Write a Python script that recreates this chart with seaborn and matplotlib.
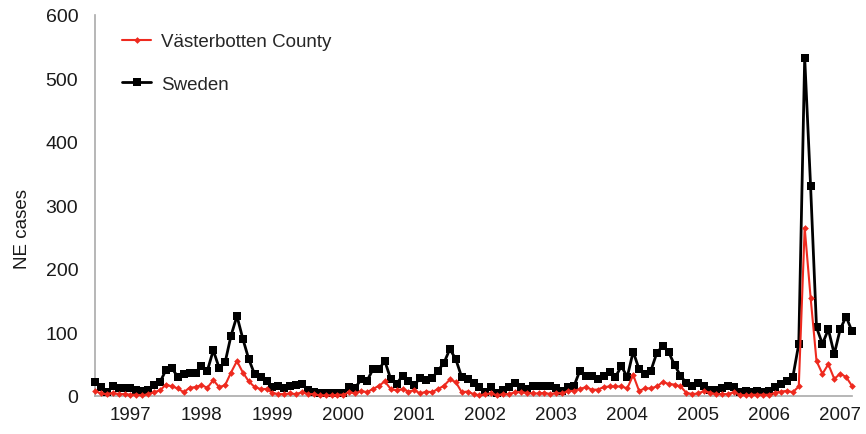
import numpy as np
import pandas as pd
import matplotlib
matplotlib.use("Agg")
import matplotlib.pyplot as plt
import seaborn as sns

# Monthly nephropathia epidemica (NE) cases, January 1997 onwards
years = [1997, 1998, 1999, 2000, 2001, 2002, 2003, 2004, 2005, 2006, 2007]

sweden = [
    22, 14, 6, 15, 12, 12, 12, 9, 8, 9, 18, 22,          # 1997
    41, 44, 30, 35, 36, 37, 48, 40, 72, 44, 53, 95,      # 1998
    126, 90, 58, 34, 30, 24, 14, 16, 12, 15, 17, 19,     # 1999
    10, 7, 5, 5, 5, 5, 4, 14, 13, 26, 24, 42,            # 2000
    42, 55, 27, 19, 32, 23, 18, 28, 25, 28, 40, 52,      # 2001
    74, 58, 30, 26, 20, 14, 6, 14, 5, 9, 14, 20,         # 2002
    14, 11, 16, 16, 16, 15, 13, 8, 14, 16, 40, 32,       # 2003
    31, 26, 32, 38, 30, 47, 30, 70, 42, 34, 40, 68,      # 2004
    79, 69, 49, 32, 20, 15, 20, 15, 10, 9, 12, 16,       # 2005
    14, 6, 8, 6, 8, 6, 8, 14, 19, 24, 30, 82,            # 2006
    533, 330, 108, 82, 105, 66, 105, 125, 102,           # 2007
]

vasterbotten = [
    8, 4, 3, 5, 3, 3, 2, 2, 1, 3, 6, 9,                  # 1997
    18, 15, 12, 6, 13, 14, 17, 13, 25, 14, 17, 37,       # 1998
    55, 37, 23, 14, 11, 11, 5, 3, 3, 4, 3, 6,            # 1999
    3, 3, 1, 1, 1, 2, 2, 6, 4, 8, 6, 11,                 # 2000
    16, 23, 11, 9, 11, 7, 9, 4, 7, 6, 11, 16,            # 2001
    26, 22, 6, 7, 3, 1, 3, 4, 1, 3, 3, 6,                # 2002
    6, 5, 4, 4, 5, 3, 5, 4, 8, 8, 11, 14,                # 2003
    10, 10, 14, 15, 15, 15, 12, 33, 8, 12, 12, 15,       # 2004
    22, 19, 18, 15, 5, 3, 4, 8, 5, 3, 3, 3,              # 2005
    6, 2, 1, 2, 2, 2, 2, 5, 7, 8, 6, 15,                 # 2006
    265, 155, 55, 35, 50, 27, 35, 30, 16,                # 2007
]

series_names = ["Västerbotten County", "Sweden"]
y_ticks = [0, 100, 200, 300, 400, 500, 600]

months = np.arange(len(sweden))
df = pd.DataFrame({"month": months, "Sweden": sweden,
                   "Västerbotten County": vasterbotten})

sns.set_style("white")
plt.rcParams["font.family"] = ["Liberation Sans", "DejaVu Sans"]

fig = plt.figure(figsize=(8.66, 4.35), dpi=100)
ax = fig.add_axes([95 / 866, 1 - 397 / 435, (852 - 95) / 866, (397 - 16) / 435])

red = "#ee2a1f"
text_color = "#1a1a1a"
sns.lineplot(data=df, x="month", y="Sweden", ax=ax, color="black",
             marker="s", markersize=5.5, markeredgewidth=0, linewidth=2.0,
             label=series_names[1], clip_on=False, zorder=3)
sns.lineplot(data=df, x="month", y="Västerbotten County", ax=ax, color=red,
             marker="D", markersize=3.4, markeredgewidth=0, linewidth=1.5,
             label=series_names[0], clip_on=False, zorder=4)

ax.set_xlim(0, len(sweden) - 1)
ax.set_ylim(0, 600)
ax.set_yticks(y_ticks)
ax.set_yticklabels([str(t) for t in y_ticks], fontsize=14, color=text_color)

# Year boundaries as ticks, year names centred within each year
ax.set_xticks([12 * i for i in range(len(years))])
ax.set_xticklabels([])
ax.set_xticks([12 * i + 6 for i in range(len(years))], minor=True)
ax.set_xticklabels([str(y) for y in years], minor=True, fontsize=13.5,
                   color=text_color)
ax.tick_params(axis="x", which="major", length=5, width=1, color="#aaaaaa",
               direction="out")
ax.tick_params(axis="x", which="minor", length=0, pad=7)
ax.tick_params(axis="y", length=5, width=1, color="#aaaaaa", direction="out",
               pad=7)

ax.set_xlabel("")
ax.set_ylabel("NE cases", fontsize=13.5, color=text_color)
ax.yaxis.set_label_coords(-0.085, 0.44)

sns.despine(ax=ax)
for side in ("left", "bottom"):
    ax.spines[side].set_color("#aaaaaa")
    ax.spines[side].set_linewidth(1.2)

handles, labels = ax.get_legend_handles_labels()
order = [labels.index(n) for n in series_names]
leg = ax.legend([handles[i] for i in order], [labels[i] for i in order],
                loc="upper left", bbox_to_anchor=(0.026, 0.972), frameon=False,
                fontsize=13.5, handlelength=1.55, handletextpad=0.5,
                labelspacing=1.35, borderaxespad=0)

fig.savefig("out.png", dpi=100, facecolor="white")
